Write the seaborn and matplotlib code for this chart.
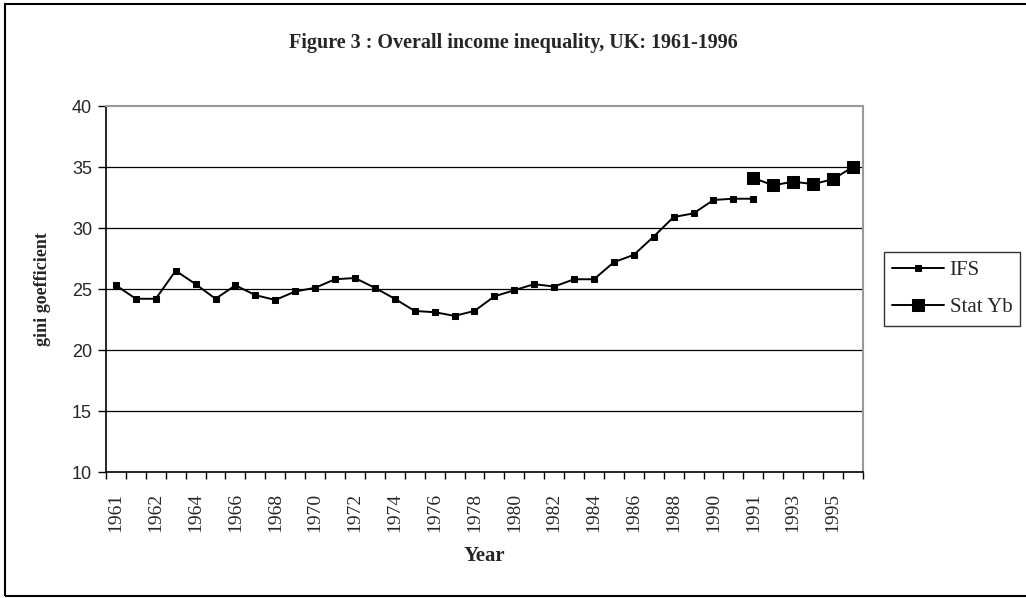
import numpy as np
import matplotlib.pyplot as plt
import seaborn as sns
from matplotlib.patches import Rectangle

# tick labels on every other category (Excel-style category axis)
tick_labels = ['1961', '', '1962', '', '1964', '', '1966', '', '1968', '',
               '1970', '', '1972', '', '1974', '', '1976', '', '1978', '',
               '1980', '', '1982', '', '1984', '', '1986', '', '1988', '',
               '1990', '', '1991', '', '1993', '', '1995', '']

ifs_gini = [25.3, 24.2, 24.2, 26.5, 25.4, 24.2, 25.3, 24.5, 24.1, 24.8,
            25.1, 25.8, 25.9, 25.1, 24.2, 23.2, 23.1, 22.8, 23.2, 24.4,
            24.9, 25.4, 25.2, 25.8, 25.8, 27.2, 27.8, 29.3, 30.9, 31.2,
            32.3, 32.4, 32.4]
statyb_gini = [34.1, 33.5, 33.8, 33.6, 34.0, 35.0]

ifs_x = np.arange(len(ifs_gini))
statyb_x = np.arange(32, 32 + len(statyb_gini))

sns.set_style('white')
plt.rcParams['font.family'] = ['Liberation Serif', 'DejaVu Serif']

fig = plt.figure(figsize=(10.26, 5.98), dpi=100)
ax = fig.add_axes([0.1033, 0.2107, 0.7377, 0.612])

sns.lineplot(x=ifs_x, y=ifs_gini, ax=ax, color='black', lw=1.4,
             marker='s', markersize=4.5, markeredgecolor='black', label='IFS')
sns.lineplot(x=statyb_x, y=statyb_gini, ax=ax, color='black', lw=1.4,
             marker='s', markersize=9, markeredgecolor='black', label='Stat Yb')

ax.set_xlim(-0.5, len(tick_labels) - 0.5)
ax.set_ylim(10, 40)

# y axis
ax.set_yticks(np.arange(10, 41, 5))
ax.set_yticklabels([str(v) for v in range(10, 41, 5)], family='Liberation Sans', fontsize=13)
ax.tick_params(axis='y', direction='out', length=6, width=1, color='black', left=True, pad=4)
for v in range(15, 40, 5):
    ax.axhline(v, color='black', lw=0.9, zorder=0)

# x axis: tick marks between categories, labels at category centres
ax.set_xticks(np.arange(-0.5, len(tick_labels), 1.0))
ax.set_xticklabels([])
ax.set_xticks(np.arange(len(tick_labels)), minor=True)
ax.set_xticklabels(tick_labels, minor=True, rotation=90, fontsize=14)
ax.tick_params(axis='x', which='major', direction='out', length=5, width=1, color='black', bottom=True)
ax.tick_params(axis='x', which='minor', length=0, pad=15)

for s in ['left', 'bottom']:
    ax.spines[s].set_color('black')
    ax.spines[s].set_linewidth(1.2)
for s in ['top', 'right']:
    ax.spines[s].set_color('#999999')
    ax.spines[s].set_linewidth(1.5)

ax.set_xlabel('Year', fontsize=15, fontweight='bold', labelpad=10)
ax.set_ylabel('gini goefficient', fontsize=13, fontweight='bold', labelpad=15)

fig.text(0.5, 0.928, 'Figure 3 : Overall income inequality, UK: 1961-1996',
         ha='center', va='center', fontsize=14.5, fontweight='bold')

leg = ax.legend(loc='center left', bbox_to_anchor=(1.014, 0.5), frameon=True,
                fancybox=False, edgecolor='black', fontsize=15, handlelength=2.5,
                borderpad=0.4, labelspacing=0.85, handletextpad=0.25)
leg.get_frame().set_linewidth(1.0)

fig.patches.append(Rectangle((0.005, 0.003), 1.2, 0.991, transform=fig.transFigure,
                             fill=False, edgecolor='black', lw=1.5))

fig.savefig('out.png', dpi=100)
